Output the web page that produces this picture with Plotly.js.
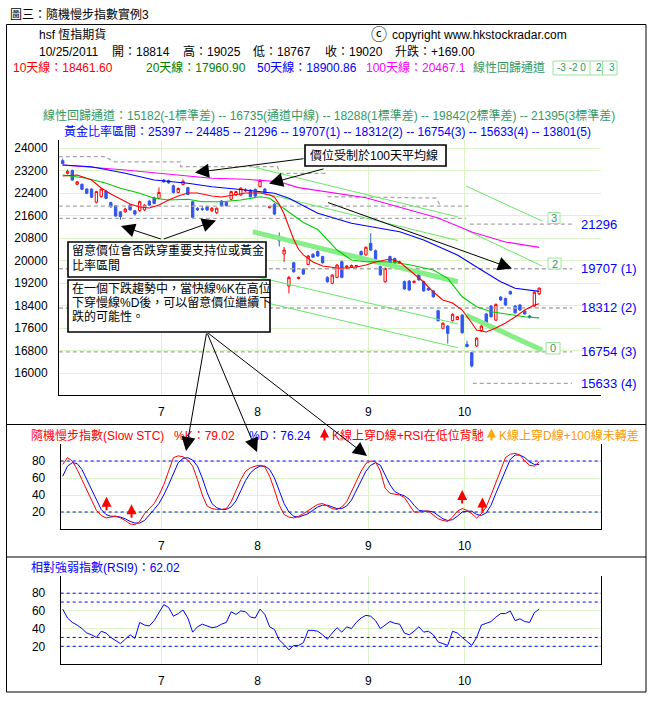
<!DOCTYPE html>
<html><head><meta charset="utf-8">
<script src="https://cdn.plot.ly/plotly-3.0.1.min.js"></script>
<style>html,body{margin:0;padding:0;background:#fff}#chart{width:654px;height:711px}</style>
</head><body><div id="chart"></div>
<script>
// ---------------- DATA ----------------
const monthTickPos = [20.5, 40.5, 63.5, 83.5];
const monthLabels = ['7', '8', '9', '10'];
const priceTicks = [16000,16800,17600,18400,19200,20000,20800,21600,22400,23200,24000];

const openP = [23550,23100,23200,22710,22710,22540,22540,22070,22270,22470,22060,21940,21730,21730,21970,21770,21770,21800,22110,22230,
22210,22860,22840,22660,22420,22700,22590,22090,21855,21840,21910,21770,21700,22115,22070,22175,22330,22330,22480,22500,
22530,22625,22540,21880,22000,20825,20230,19090,19920,19360,19690,19860,20220,20320,20140,19400,19190,19400,19960,19760,
19760,19780,20320,20200,20610,20350,19780,19245,20140,20070,19900,19250,19270,19220,19600,19250,19020,18920,18215,17590,
17670,17860,17900,18060,17020,16725,16960,17500,18100,18380,17880,18700,18650,18900,18380,18420,18200,18030,18380,18814];
const highP = [23620,23230,23230,22830,22740,22570,22570,22480,22580,22510,22090,21970,21760,21870,22010,21800,22130,22000,22160,22270,
22600,22900,22880,22700,22600,22880,22620,22120,21900,21950,21950,21900,21880,22150,22110,22480,22480,22600,22560,22540,
22560,22900,22580,21950,22040,21000,20480,19450,19960,19430,19720,20190,20260,20360,20170,19440,19510,19870,20000,19840,
19860,19840,20360,20500,20970,20390,19810,19750,20170,20100,19990,19290,19300,19290,19640,19280,19050,18950,18250,17800,
17700,18120,18030,18090,17150,16760,17270,17700,18140,18420,18470,18730,18680,18930,18420,18450,18230,18060,18900,19025];
const lowP = [23420,23060,22840,22680,22500,22360,22220,22030,22240,22180,21870,21560,21450,21700,21780,21600,21740,21760,21940,22000,
22180,22760,22730,22380,22390,22680,22330,21500,21760,21760,21760,21720,21650,21900,21920,22140,22300,22300,22440,22240,
22260,22600,22350,21850,21620,20500,19950,18830,19570,19330,19490,19830,20090,20130,19890,19210,19160,19370,19370,19730,
19730,19750,20170,20170,20340,19930,19460,19210,19810,19880,19870,18960,18920,19190,19280,18890,18920,18680,17830,17560,
17050,17830,17880,17400,16910,16200,16930,17470,17640,17970,17850,18570,18390,18780,18110,18210,18070,17940,18350,18767];
const closeP = [23450,23170,22860,22800,22530,22390,22250,22450,22540,22210,21910,21580,21560,21830,21800,21650,22090,21970,21970,22030,
22420,22800,22760,22420,22560,22820,22350,21535,21800,21820,21800,21860,21860,21940,21950,22450,22450,22570,22500,22270,
22290,22840,22380,21920,21650,20700,20370,19400,19600,19400,19520,20160,20115,20160,19920,19245,19480,19840,19400,19800,
19820,19820,20200,20470,20370,19960,19490,19720,19840,19910,19950,18990,18950,19260,19310,18920,18950,18710,17860,17770,
17410,18090,18000,17430,16940,16250,17240,17670,17700,18000,18440,18600,18420,18810,18140,18240,18100,17970,18870,19020];

const ma10Idx = [0,3,6,8,10,12,14,16,18,20,22,24,26,28,31,33,36,38,41,43,44,45,46,47,48,49,50,52,54,57,59,61,63,65,68,70,72,75,77,79,81,83,85,86,88,90,92,94,96,98,99];
const ma10Val = [23004,23040,22862,22578,22364,22186,22009,21902,21866,21973,22151,22293,22400,22400,22293,22258,22329,22400,22400,22329,22250,22000,21650,21200,20750,20400,20200,19950,19804,19733,19733,19768,19840,19946,20053,19946,19662,19235,18879,18595,18488,18239,17777,17528,17457,17599,17777,17990,18239,18417,18462];
const ma20Idx = [0,5,9,12,16,19,22,26,29,33,37,41,43,45,47,50,53,57,60,63,68,72,77,80,83,86,89,91,94,96,99];
const ma20Val = [23040,22923,22745,22567,22389,22211,22151,22176,22090,22090,22151,22268,22211,21973,21735,21350,21100,20373,20017,19957,19957,19850,19662,19367,18712,18357,18179,18122,18062,18001,17961];
const ma50Idx = [0,6,13,19,26,31,38,44,47,51,53,60,68,70,75,82,87,91,94,99];
const ma50Val = [23395,23335,23100,22862,22745,22624,22507,22389,22211,21856,21678,21322,21084,21024,20729,20195,19662,19246,19011,18901];
const ma100Idx = [0,13,26,31,38,45,49,63,78,85,92,99];
const ma100Val = [23395,23218,23004,22923,22887,22802,22592,22229,21511,21013,20657,20467];

// regression channels (start / end)
const ch1Idx = [39.5, 82.1];
const ch1Up3 = [23328, 21550], ch1Up2 = [22489, 20711], ch1Mid = [21024, 19246], ch1Dn2 = [19452, 17745], ch1Dn3 = [18609, 16899];
const ch2Idx = [83.8, 99.6];
const ch2Up3 = [22649, 21404], ch2Up2 = [21084, 19804], ch2Mid = [18055, 16817];

// golden ratio levels
const goldLevels = [21296, 19707, 18312, 16754, 15633];
const goldLabels = ['21296', '19707 (1)', '18312 (2)', '16754 (3)', '15633 (4)'];
const goldFrom = [84.6, -0.8, -0.8, -0.8, 85.2];
const goldTo = 105.8;
// earlier golden levels (stepped)
const oldGoldIdx = [-0.8,8.7,10.8,24.5,24.5,44.6,45.2,55,null,55,77.6,78.5,null,-0.8,84.3,null,-0.8,83.8];
const oldGoldVal = [23690,23690,23510,23510,23335,23335,23100,23100,null,22270,22220,21930,null,21930,21930,null,21500,21500];

// Slow STC
const kVals = [76,84,80,70,58,46,33,22,16,13,14,15,13,10,6,5,9,18,24,30,
40,52,68,84,86,85,81,74,58,40,27,24,23,23,24,32,45,58,68,72,
74,75,73,62,46,28,17,14,13,15,18,22,26,29,30,27,24,23,26,32,
44,57,68,77,80,79,68,48,42,41,40,37,28,20,20,21,21,17,12,10,
9,14,21,24,22,18,13,18,26,40,55,68,84,88,89,87,80,75,74,79];
const dVals = [62,74,78,77,70,58,45,33,23,17,15,15,14,12,9,7,7,10,16,23,
30,40,52,66,78,83,84,81,74,60,43,30,25,23,23,26,33,45,57,66,
71,74,74,70,60,45,30,20,15,14,16,18,22,26,28,28,26,24,24,27,
34,45,57,68,75,78,75,64,52,44,41,39,35,28,22,21,21,20,16,12,
10,11,15,20,21,21,17,16,19,28,42,56,70,82,87,87,84,79,76,76];
const stcBands = [80, 20];
const stcSignalIdx = [9.1, 14.3, 83.0, 87.2];
const stcSignalVal = [38, 29, 46, 37];

// RSI(9)
const rsiVals = [62,52,47,44,40,35,33,30,37,35,30,26,23,28,33,29,47,44,43,49,
58,67,64,54,57,61,52,36,42,45,43,41,42,45,47,59,56,60,59,53,
52,62,56,42,39,27,22,16,21,21,24,38,38,37,33,28,35,41,36,42,
40,47,52,55,54,49,40,44,48,46,45,35,33,37,42,36,37,33,25,23,
21,37,35,30,25,21,30,44,46,48,53,57,57,60,49,51,48,47,58,62];
const rsiBands = [80, 70, 30, 20];

// ---------------- DRAW ----------------
const W = 654, H = 711;
const X = p => p / W, Y = p => 1 - p / H;
const F = 'Liberation Sans, Arial, "Noto Sans CJK TC", sans-serif';
const GRID = '#dcf5c8';
const days = openP.map((_, i) => i);
const pxPerDay = 4.813, x0px = 62.7;
const xr = (l, r) => [(l - x0px) / pxPerDay, (r - x0px) / pxPerDay];
const pyBase = 148, pxPerPt = 0.028125;
const yr = (b, t) => [24000 - (b - pyBase) / pxPerPt, 24000 - (t - pyBase) / pxPerPt];
const subRange = xr(60.7, 601);

const traces = [];
const line = (x, y, color, width, ax, dash) => ({type:'scatter', mode:'lines', x, y, xaxis:ax[0], yaxis:ax[1],
  line:{color, width, dash: dash || 'solid'}, hoverinfo:'skip', showlegend:false, connectgaps:false});
const P = ['x','y'], S = ['x2','y2'], R = ['x3','y3'];

// golden dashed lines
goldLevels.forEach((v, k) => traces.push(line([goldFrom[k], goldTo], [v, v], '#a8a8a8', 1.3, P, '4px,3px')));
traces.push(line(oldGoldIdx, oldGoldVal, '#a8a8a8', 1.3, P, '4px,3px'));
// channels
[ch1Up3, ch1Up2, ch1Dn2, ch1Dn3].forEach(c => traces.push(line(ch1Idx, c, '#66e866', 1, P)));
traces.push(line(ch1Idx, ch1Mid, '#86ee86', 5, P));
[ch2Up3, ch2Up2].forEach(c => traces.push(line(ch2Idx, c, '#66e866', 1, P)));
traces.push(line(ch2Idx, ch2Mid, '#86ee86', 5, P));
// moving averages
traces.push(line(ma100Idx, ma100Val, '#ff00ff', 1.1, P));
traces.push(line(ma50Idx, ma50Val, '#0000ff', 1.1, P));
traces.push(line(ma20Idx, ma20Val, '#00cc00', 1.1, P));
traces.push(line(ma10Idx, ma10Val, '#ff0000', 1.1, P));
// candles
traces.push({type:'candlestick', x:days, open:openP, high:highP, low:lowP, close:closeP, xaxis:'x', yaxis:'y',
  increasing:{line:{color:'#ff0000', width:1}, fillcolor:'#ffffff'},
  decreasing:{line:{color:'#3355ee', width:1}, fillcolor:'#3355ee'},
  whiskerwidth:0, hoverinfo:'skip', showlegend:false});
// STC
stcBands.forEach(v => traces.push(line(subRange, [v, v], '#0000ff', 1, S, '3px,3px')));
traces.push(line(days, dVals, '#0000ff', 1, S));
traces.push(line(days, kVals, '#ff0000', 1, S));
// RSI
rsiBands.forEach(v => traces.push(line(subRange, [v, v], '#0000ff', 1, R, '3px,3px')));
traces.push(line(days, rsiVals, '#0000ff', 1, R));

const shapes = [];
const rect = (x0,y0,x1,y1,lc,lw,fill) => ({type:'rect', xref:'paper', yref:'paper', x0:X(x0), x1:X(x1), y0:Y(y0), y1:Y(y1),
  line:{color:lc, width:lw}, fillcolor:fill || 'rgba(0,0,0,0)', layer:'above'});
const seg = (x0,y0,x1,y1,c,w) => ({type:'line', xref:'paper', yref:'paper', x0:X(x0), x1:X(x1), y0:Y(y0), y1:Y(y1), line:{color:c, width:w}, layer:'above'});
shapes.push(rect(6.5, 24.5, 646, 692, '#000', 1));
shapes.push(seg(6.5, 424.5, 646, 424.5, '#000', 1));
shapes.push(seg(6.5, 557, 646, 557, '#000', 1));
// text boxes
shapes.push(rect(305, 145, 446, 166, '#000', 1.6, '#fff'));
shapes.push(rect(68, 242, 266, 277, '#000', 1.6, '#fff'));
shapes.push(rect(68, 280, 270, 332, '#000', 1.6, '#fff'));
// channel label boxes
shapes.push(rect(548, 212.5, 560, 223.5, '#99e699', 1, '#fff'));
shapes.push(rect(548, 258, 561, 269, '#99e699', 1, '#fff'));
shapes.push(rect(546, 342.5, 560, 354, '#99e699', 1, '#fff'));
// legend boxes -3 -2 0 2 3
shapes.push(rect(553, 61, 617, 75, '#99e699', 1, '#fff'));
shapes.push(seg(590, 61, 590, 75, '#99e699', 1));
shapes.push(seg(602.5, 61, 602.5, 75, '#99e699', 1));

const ann = [];
const txt = (x, y, text, color, size, extra) => Object.assign({xref:'paper', yref:'paper', x:X(x), y:Y(y), text,
  showarrow:false, xanchor:'left', yanchor:'middle', font:{family:F, size:size || 12, color:color || '#000'}}, extra || {});
ann.push(txt(8, 15, '圖三：隨機慢步指數實例3'));
ann.push(txt(36.5, 35, 'hsf 恆指期貨'));
ann.push(txt(369, 34.5, 'ⓒ', '#000', 16));
ann.push(txt(390, 35, 'copyright www.hkstockradar.com'));
ann.push(txt(36.5, 51.5, '10/25/2011'));
ann.push(txt(109.5, 51.5, '開：18814'));
ann.push(txt(181, 51.5, '高：19025'));
ann.push(txt(251, 51.5, '低：18767'));
ann.push(txt(323, 51.5, '收：19020'));
ann.push(txt(393, 51.5, '升跌：+169.00'));
ann.push(txt(11, 68, '10天線：18461.60', '#ff0000'));
ann.push(txt(144, 68, '20天線：17960.90', '#008000'));
ann.push(txt(254.5, 68, '50天線：18900.86', '#0000ff'));
ann.push(txt(364, 68, '100天線：20467.1', '#ff00ff'));
ann.push(txt(470.5, 68, '線性回歸通道', '#339966'));
ann.push(txt(555, 68, '-3 -2 0', '#339966', 10));
ann.push(txt(593.5, 68, '2', '#339966', 10));
ann.push(txt(607, 68, '3', '#339966', 10));
ann.push(txt(40.5, 115.5, '線性回歸通道：15182(-1標準差) -- 16735(通道中線) -- 18288(1標準差) -- 19842(2標準差) -- 21395(3標準差)', '#339966'));
ann.push(txt(62, 131, '黃金比率區間：25397 -- 24485 -- 21296 -- 19707(1) -- 18312(2) -- 16754(3) -- 15633(4) -- 13801(5)', '#0000ff'));
goldLevels.forEach((v, k) => ann.push({xref:'paper', yref:'y', x:X(579), y:v, text:goldLabels[k], showarrow:false,
  xanchor:'left', yanchor:'middle', font:{family:F, size:13, color:'#0000ff'}}));
ann.push(txt(554, 218, '3', '#339966', 11, {xanchor:'center'}));
ann.push(txt(554.5, 263.5, '2', '#339966', 11, {xanchor:'center'}));
ann.push(txt(553, 348, '0', '#339966', 11, {xanchor:'center'}));
// boxes text
ann.push(txt(308, 155.5, '價位受制於100天平均線'));
ann.push(txt(70, 250, '留意價位會否跌穿重要支持位或黃金'));
ann.push(txt(70, 265, '比率區間'));
ann.push(txt(70, 288.5, '在一個下跌趨勢中，當快線%K在高位'));
ann.push(txt(70, 302, '下穿慢線%D後，可以留意價位繼續下'));
ann.push(txt(70, 316, '跌的可能性。'));
// STC / RSI titles
ann.push(txt(29, 435.5, '隨機慢步指數(Slow STC)', '#ff0000'));
ann.push(txt(171.5, 435.5, '%K：79.02', '#ff0000'));
ann.push(txt(247, 435.5, '%D：76.24', '#0000ff'));
ann.push(txt(330, 435.5, 'K線上穿D線+RSI在低位背馳', '#ff0000'));
ann.push(txt(497, 435.5, 'K線上穿D線+100線未轉差', '#ff9900'));
ann.push(txt(29, 568, '相對強弱指數(RSI9)：62.02', '#0000ff'));
// arrows
const arrow = (hx, hy, tx, ty, color, size, width) => ({xref:'paper', yref:'paper', x:X(hx), y:Y(hy), ax:tx - hx, ay:ty - hy,
  axref:'pixel', ayref:'pixel', text:'', showarrow:true, arrowhead:2, arrowsize:size, arrowwidth:width, arrowcolor:color, standoff:0, startstandoff:0});
ann.push(arrow(195, 172.5, 305, 158.5, '#000', 2.8, 1));
ann.push(arrow(269, 183.5, 325, 168.5, '#000', 2.8, 1));
ann.push(arrow(121, 226, 162.3, 239.5, '#000', 2.8, 1));
ann.push(arrow(216, 220.5, 162.3, 239.5, '#000', 2.8, 1));
ann.push(arrow(186, 451, 206.7, 332, '#000', 2.8, 1));
ann.push(arrow(257, 452, 206.7, 332, '#000', 2.8, 1));
ann.push(arrow(367, 456, 206.7, 332, '#000', 2.8, 1));
ann.push(arrow(512, 268.5, 326.5, 202, '#000', 2.8, 1));
ann.push(arrow(324.5, 428.5, 324.5, 442, '#ff0000', 0.9, 2));
ann.push(arrow(491.5, 428.5, 491.5, 442, '#ffaa00', 0.9, 2));
stcSignalIdx.forEach((v, k) => ann.push({xref:'x2', yref:'y2', x:v, y:stcSignalVal[k], ax:0, ay:15, axref:'pixel', ayref:'pixel',
  text:'', showarrow:true, arrowhead:2, arrowsize:1, arrowwidth:2, arrowcolor:'#ff0000', standoff:0}));

const xBase = {tickvals:monthTickPos, ticktext:monthLabels, showgrid:true, gridcolor:GRID, gridwidth:1, showline:true,
  linecolor:'#000', linewidth:1, zeroline:false, ticks:'', tickfont:{family:F, size:12, color:'#000'}, ticklabelstandoff:6, fixedrange:true};
const yBase = {showgrid:true, gridcolor:GRID, gridwidth:1, showline:true, linecolor:'#000', linewidth:1, zeroline:false,
  ticks:'', tickfont:{family:F, size:12, color:'#000'}, fixedrange:true};

const layout = {
  width:W, height:H, margin:{l:0, r:0, t:0, b:0}, paper_bgcolor:'#fff', plot_bgcolor:'#fff',
  showlegend:false, hovermode:false, dragmode:false,
  xaxis: Object.assign({}, xBase, {domain:[X(59), X(601)], range:xr(59, 601), anchor:'y', rangeslider:{visible:false}}),
  yaxis: Object.assign({}, yBase, {domain:[Y(395), Y(140)], range:yr(395, 140), anchor:'x', tickvals:priceTicks, tickformat:'d', ticklabelstandoff:8}),
  xaxis2: Object.assign({}, xBase, {domain:[X(60.7), X(601)], range:subRange, anchor:'y2'}),
  yaxis2: Object.assign({}, yBase, {domain:[Y(529), Y(444)], range:[0, 100], anchor:'x2', tickvals:[20,40,60,80], mirror:true, ticklabelstandoff:12}),
  xaxis3: Object.assign({}, xBase, {domain:[X(60.7), X(601)], range:subRange, anchor:'y3'}),
  yaxis3: Object.assign({}, yBase, {domain:[Y(664), Y(575.5)], range:[0, 100], anchor:'x3', tickvals:[20,40,60,80], mirror:true, ticklabelstandoff:12}),
  shapes, annotations:ann
};
Plotly.newPlot('chart', traces, layout, {staticPlot:true, displayModeBar:false});
</script></body></html>
